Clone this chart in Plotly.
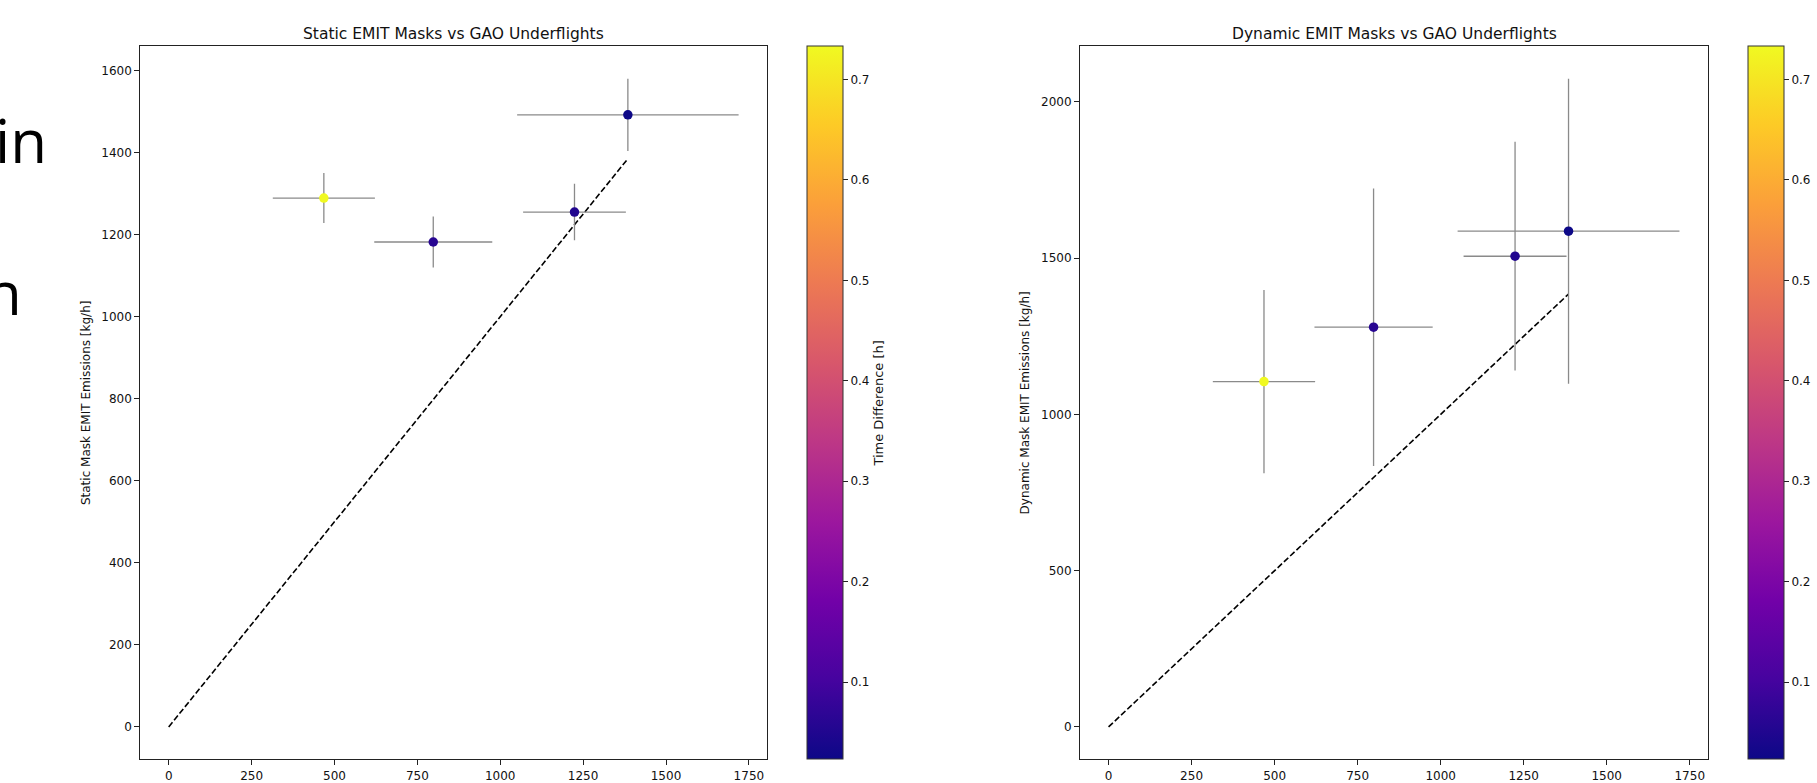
import plotly.graph_objects as go

# ---- data ----
gao_flux = [468, 798, 1224, 1385]          # GAO underflight emissions [kg/h]
gao_err = [154, 178, 155, 334]
static_flux = [1289, 1182, 1255, 1492]     # static mask EMIT emissions [kg/h]
static_err = [61, 62, 69, 88]
dynamic_flux = [1105, 1279, 1506, 1586]    # dynamic mask EMIT emissions [kg/h]
dynamic_err = [293, 444, 366, 488]
time_diff = [0.733, 0.06, 0.05, 0.023]     # time difference [h]
one_to_one = [0, 1385]
cbar_ticks = [0.1, 0.2, 0.3, 0.4, 0.5, 0.6, 0.7]

W, H = 1817, 783
FONT = "DejaVu Sans"

def auto_range(lo, hi, m=0.05):
    d = hi - lo
    return [lo - m * d, hi + m * d]

x_hi = max(g + e for g, e in zip(gao_flux, gao_err))
x_range = auto_range(min(0, min(g - e for g, e in zip(gao_flux, gao_err))), x_hi)
ys_hi = max(v + e for v, e in zip(static_flux, static_err))
ys_range = auto_range(0, ys_hi)
yd_hi = max(v + e for v, e in zip(dynamic_flux, dynamic_err))
yd_range = auto_range(0, yd_hi)

cmin, cmax = min(time_diff), max(time_diff)

fig = go.Figure()

def add_panel(xa, ya, yvals, yerr, cb_x, cb_title):
    fig.add_trace(go.Scatter(
        x=one_to_one, y=one_to_one, mode="lines",
        line=dict(color="black", width=1.6, dash="6px,2.6px"),
        xaxis=xa, yaxis=ya, showlegend=False, hoverinfo="skip"))
    fig.add_trace(go.Scatter(
        x=gao_flux, y=yvals, mode="markers",
        error_x=dict(type="data", array=gao_err, color="#8a8a8a", thickness=1.3, width=0),
        error_y=dict(type="data", array=yerr, color="#8a8a8a", thickness=1.3, width=0),
        marker=dict(size=9.5, color=time_diff, colorscale="Plasma", cmin=cmin, cmax=cmax,
                    showscale=True, line=dict(width=0),
                    colorbar=dict(
                        x=cb_x, xanchor="left", xref="paper", xpad=0, ypad=0,
                        y=0.0277, yanchor="bottom", len=0.913, lenmode="fraction",
                        thickness=36, thicknessmode="pixels",
                        outlinewidth=1, outlinecolor="#333",
                        tickmode="array", tickvals=cbar_ticks,
                        ticktext=[f"{t:.1f}" for t in cbar_ticks],
                        ticks="outside", ticklen=5, tickcolor="#222",
                        tickfont=dict(family=FONT, size=12, color="#111"),
                        title=dict(text=cb_title, side="right",
                                   font=dict(family=FONT, size=13, color="#111")))),
        xaxis=xa, yaxis=ya, showlegend=False))

add_panel("x", "y", static_flux, static_err, 806.5 / W, "Time Difference [h]")
add_panel("x2", "y2", dynamic_flux, dynamic_err, 1747.5 / W, "")

ax_common = dict(showline=True, mirror=True, linecolor="#222", linewidth=1,
                 showgrid=False, zeroline=False, ticks="outside", ticklen=5,
                 tickcolor="#222", tickfont=dict(family=FONT, size=12, color="#111"))

y_dom = [1 - 761.3 / H, 1 - 46.4 / H]

fig.update_layout(
    width=W, height=H,
    margin=dict(l=0, r=0, t=0, b=0),
    paper_bgcolor="white", plot_bgcolor="white",
    font=dict(family=FONT, color="#111"),
    xaxis=dict(domain=[140.2 / W, 767.1 / W], range=x_range,
               tickvals=[0, 250, 500, 750, 1000, 1250, 1500, 1750], **ax_common),
    yaxis=dict(domain=y_dom, range=ys_range,
               tickvals=[0, 200, 400, 600, 800, 1000, 1200, 1400, 1600],
               title=dict(text="Static Mask EMIT Emissions [kg/h]",
                          font=dict(family=FONT, size=12), standoff=8),
               **ax_common),
    xaxis2=dict(domain=[1080 / W, 1708 / W], range=x_range, anchor="y2",
                tickvals=[0, 250, 500, 750, 1000, 1250, 1500, 1750], **ax_common),
    yaxis2=dict(domain=y_dom, range=yd_range, anchor="x2",
                tickvals=[0, 500, 1000, 1500, 2000],
                title=dict(text="Dynamic Mask EMIT Emissions [kg/h]",
                           font=dict(family=FONT, size=12), standoff=8),
                **ax_common),
    annotations=[
        dict(text="Static EMIT Masks vs GAO Underflights", xref="paper", yref="paper",
             x=(140.2 + 767.1) / 2 / W, y=1 - 33.6 / H, xanchor="center", yanchor="middle",
             showarrow=False, font=dict(family=FONT, size=15.5, color="#111")),
        dict(text="Dynamic EMIT Masks vs GAO Underflights", xref="paper", yref="paper",
             x=(1080 + 1708) / 2 / W, y=1 - 33.6 / H, xanchor="center", yanchor="middle",
             showarrow=False, font=dict(family=FONT, size=15.5, color="#111")),
        dict(text="in", xref="paper", yref="paper", x=49 / W, y=1 - 140 / H,
             xanchor="right", yanchor="middle", showarrow=False,
             font=dict(family="Open Sans", size=60, color="black")),
        dict(text="n", xref="paper", yref="paper", x=24 / W, y=1 - 293 / H,
             xanchor="right", yanchor="middle", showarrow=False,
             font=dict(family="Open Sans", size=60, color="black")),
    ],
)

fig.write_html("out.html")
